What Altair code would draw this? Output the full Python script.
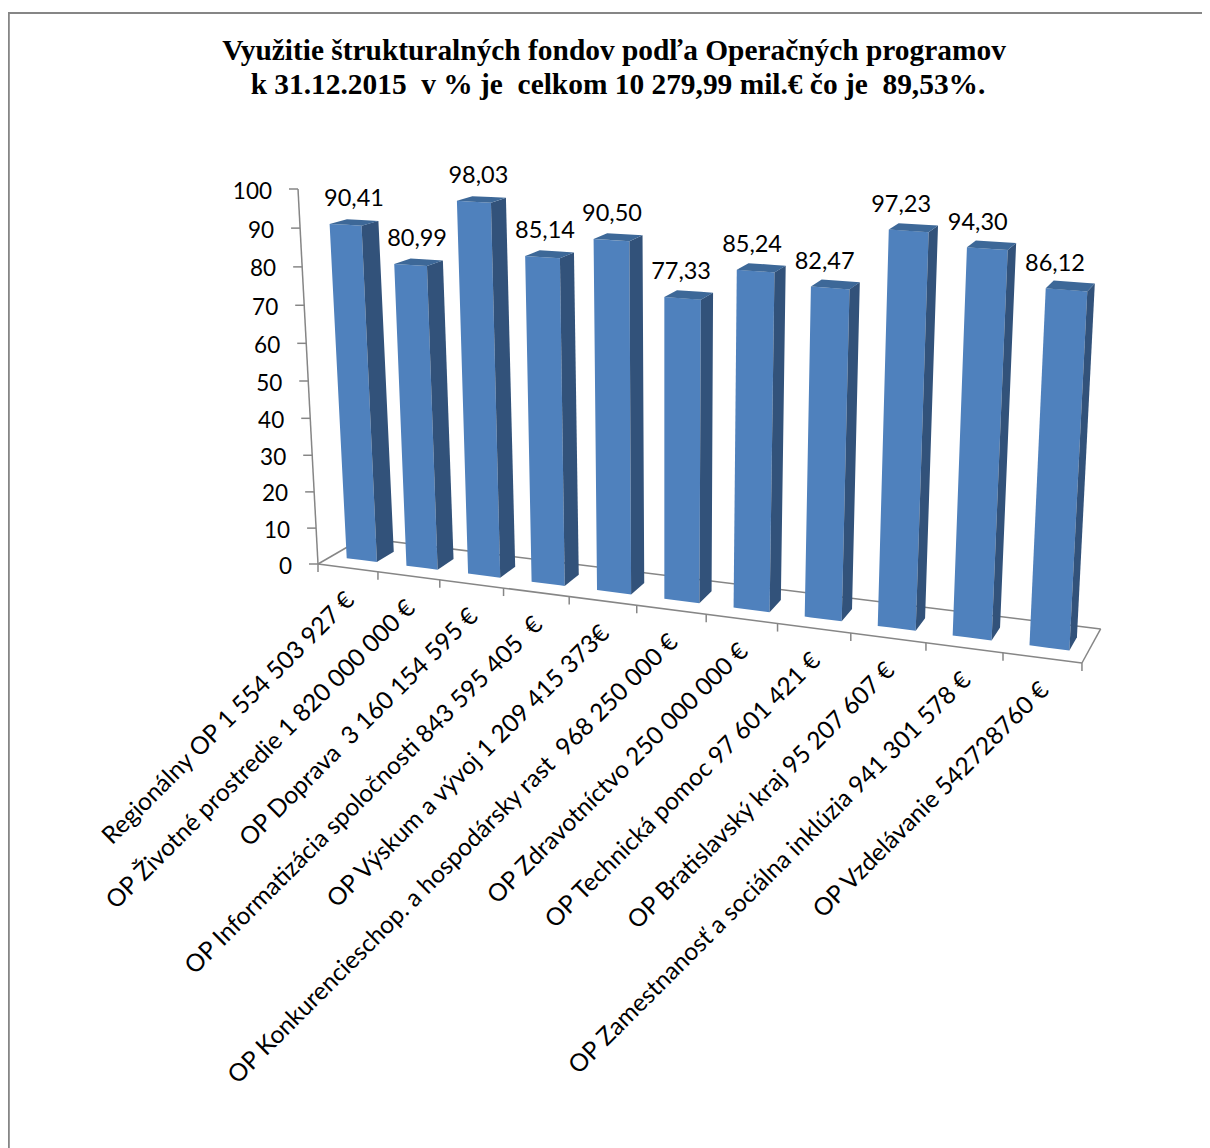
import altair as alt
import pandas as pd

# ---- chart values ----
values = [90.41, 80.99, 98.03, 85.14, 90.50, 77.33, 85.24, 82.47, 97.23, 94.30, 86.12]
value_labels = ["90,41", "80,99", "98,03", "85,14", "90,50", "77,33", "85,24", "82,47", "97,23", "94,30", "86,12"]
categories = [
    "Regionálny OP 1 554 503 927 €",
    "OP Životné prostredie 1 820 000 000 €",
    "OP Doprava \u00a03 160 154 595 €",
    "OP Informatizácia spoločnosti 843 595 405 \u00a0€",
    "OP Výskum a vývoj 1 209 415 373€",
    "OP Konkurencieschop. a hospodársky rast \u00a0968 250 000 €",
    "OP Zdravotníctvo 250 000 000 €",
    "OP Technická pomoc 97 601 421 €",
    "OP Bratislavský kraj 95 207 607 €",
    "OP Zamestnanosť a sociálna inklúzia 941 301 578 €",
    "OP Vzdelávanie 542728760 €",
]
axis_ticks = [0, 10, 20, 30, 40, 50, 60, 70, 80, 90, 100]
title_lines = [
    "Využitie štrukturalných fondov podľa Operačných programov",
    "k 31.12.2015 \u00a0v % je \u00a0celkom 10 279,99 mil.€ čo je \u00a089,53%.",
]

W, H = 1194, 1140
FONT = "Lato"
GREY = "#868686"


# ---- a small perspective camera: (slot u, value v, depth w) -> canvas position ----
def project(u, v=0.0, w=0.0):
    x0 = 318 + 59 * u + 0.95 * u * u
    y0 = 564 + 0.1296 * (x0 - 318)
    fx = x0 + w * (45 - 2.39 * u)
    fy = y0 + w * (-26 - 0.73 * u)
    t = v / 100
    f = t * (1 - 0.048 * (1 - t))
    height = 375 + 4.6 * u - 16 * w
    lean = -20 + 3.8 * u
    return fx + lean * f, fy - height * f


def area_rows(poly, key):
    rows = []
    n = len(poly)
    for x in sorted({p[0] for p in poly}):
        ys = []
        for k in range(n):
            a, b = poly[k], poly[(k + 1) % n]
            if min(a[0], b[0]) <= x <= max(a[0], b[0]):
                if a[0] == b[0]:
                    ys += [a[1], b[1]]
                else:
                    ys.append(a[1] + (b[1] - a[1]) * (x - a[0]) / (b[0] - a[0]))
        rows.append({"key": key, "x": x, "y": min(ys), "y2": max(ys)})
    return rows


U0, U1, W0, W1 = 0.26, 0.77, 0.30, 0.69
front, side, top, value_text = [], [], [], []
for i, v in enumerate(values):
    a, b = i + U0, i + U1
    front += area_rows([project(a, 0, W0), project(b, 0, W0), project(b, v, W0), project(a, v, W0)], i)
    side += area_rows([project(b, 0, W0), project(b, 0, W1), project(b, v, W1), project(b, v, W0)], i)
    top += area_rows([project(a, v, W0), project(b, v, W0), project(b, v, W1), project(a, v, W1)], i)
    cx, cy = project(i + 0.515, v, W0)
    value_text.append({"x": cx + 9.5 - 2 * (i + 0.5), "y": cy - 26, "t": value_labels[i]})

lines = []


def seg(key, *pts):
    for n, (x, y) in enumerate(pts):
        lines.append({"key": key, "x": x, "y": y, "o": n})


seg("front", project(0), project(11))
seg("right", project(11), project(11, 0, 1))
seg("back", project(11, 0, 1), project(0, 0, 1))
seg("left", project(0, 0, 1), project(0))
seg("axis", project(0), project(0, 100))
for k in range(12):
    x, y = project(k)
    seg(f"xt{k}", (x, y), (x, y + 8))
tick_text = []
for t in axis_ticks:
    x, y = project(0, t)
    seg(f"yt{t}", (x - 9, y), (x, y))
    tick_text.append({"x": x - 26, "y": y + 2.5, "t": str(t)})

frame = pd.DataFrame({"key": "frame", "x": [8.8, 8.8, 1210], "y": [1148, 13, 13], "o": [0, 1, 2]})

cat_text = []
for i, c in enumerate(categories):
    x, y = project(i + 0.5)
    cat_text.append({"x": x + 3, "y": y + 29, "t": c})

titles = [{"x": 614, "y": 51, "t": title_lines[0]}, {"x": 618, "y": 85, "t": title_lines[1]}]

X = alt.X("x:Q", scale=alt.Scale(domain=[8, 8 + W], nice=False, zero=False), axis=None)
Y = alt.Y("y:Q", scale=alt.Scale(domain=[8 + H, 8], nice=False, zero=False), axis=None)


def faces(rows, color):
    return alt.Chart(pd.DataFrame(rows)).mark_area(color=color, interpolate="linear").encode(
        x=X, y=Y, y2="y2:Q", detail="key:N"
    )


def path(df, width, color=GREY):
    return alt.Chart(df).mark_line(color=color, strokeWidth=width).encode(
        x=X, y=Y, detail="key:N", order="o:Q"
    )


def text(rows, size, **kw):
    return alt.Chart(pd.DataFrame(rows)).mark_text(fontSize=size, color="#000000", **kw).encode(
        x=X, y=Y, text="t:N"
    )


chart = alt.layer(
    path(frame, 2),
    path(pd.DataFrame(lines), 1.5),
    faces(front, "#4F81BD"),
    faces(side, "#32527A"),
    faces(top, "#3D6898"),
    text(value_text, 23.5, font=FONT, align="center", baseline="middle"),
    text(tick_text, 22.5, font=FONT, align="right", baseline="middle"),
    text(cat_text, 24.5, font=FONT, align="right", baseline="middle", angle=315),
    text(titles, 29.4, font="Liberation Serif", fontWeight="bold", align="center", baseline="middle"),
).properties(
    width=W, height=H, padding=0, autosize=alt.AutoSizeParams(type="none"), background="#ffffff"
).configure_view(stroke=None)

chart.save("out.html", embed_options={"renderer": "svg", "actions": False})
